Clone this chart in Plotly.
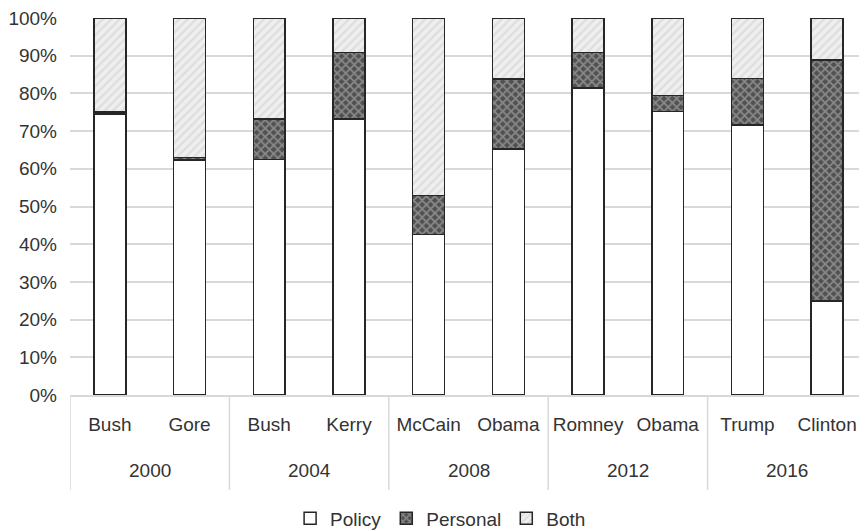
import plotly.graph_objects as go

years = ["2000", "2000", "2004", "2004", "2008", "2008", "2012", "2012", "2016", "2016"]
candidates = ["Bush", "Gore", "Bush", "Kerry", "McCain", "Obama", "Romney", "Obama", "Trump", "Clinton"]
policy = [74.6, 62.3, 62.5, 73.2, 42.6, 65.3, 81.4, 75.2, 71.6, 25.0]
personal = [0.5, 0.7, 10.7, 17.6, 10.3, 18.5, 9.4, 4.2, 12.3, 63.8]
both = [round(100 - a - b, 1) for a, b in zip(policy, personal)]
y_ticks = list(range(0, 101, 10))
y_tick_labels = [f"{v}%" for v in y_ticks]

idx = list(range(len(candidates)))
line = dict(color="#262626", width=1.5)
FONT = "Liberation Sans, Arial, sans-serif"
AXIS_GREY = "#d9d9d9"

fig = go.Figure()
fig.add_trace(go.Bar(
    name="Policy", x=idx, y=policy,
    marker=dict(color="white", line=line),
))
fig.add_trace(go.Bar(
    name="Personal", x=idx, y=personal,
    marker=dict(color="#5a5a5a", line=line,
                pattern=dict(shape="x", fgcolor="#c4c4c4", bgcolor="#505050", size=6, solidity=0.5)),
))
fig.add_trace(go.Bar(
    name="Both", x=idx, y=both,
    marker=dict(color="#e4e4e4", line=line,
                pattern=dict(shape="/", fgcolor="#cdcdcd", bgcolor="#efefef", size=6, solidity=0.4)),
))

# year group labels and dividers
groups = []
for i, yr in enumerate(years):
    if not groups or groups[-1][0] != yr:
        groups.append([yr, i, i])
    else:
        groups[-1][2] = i

annotations = []
shapes = []
for yr, start, end in groups:
    annotations.append(dict(x=(start + end) / 2, y=-0.2, xref="x", yref="paper",
                            text=yr, showarrow=False, yanchor="middle",
                            font=dict(family=FONT, size=19, color="#333333")))
    shapes.append(dict(type="line", xref="x", yref="paper", x0=start - 0.5, x1=start - 0.5,
                       y0=0, y1=-0.252, line=dict(color=AXIS_GREY, width=1.5)))
shapes.append(dict(type="line", xref="x", yref="paper", x0=groups[-1][2] + 0.5, x1=groups[-1][2] + 0.5,
                   y0=0, y1=-0.252, line=dict(color=AXIS_GREY, width=1.5)))

fig.update_layout(
    barmode="stack",
    bargap=0.6,
    width=859, height=523,
    margin=dict(l=62, r=0, t=10, b=136, autoexpand=False),
    plot_bgcolor="white", paper_bgcolor="white",
    font=dict(family=FONT, size=19, color="#333333"),
    legend=dict(orientation="h", x=0.465, xanchor="center", y=-0.327, yanchor="middle",
                font=dict(size=19), itemwidth=30, traceorder="normal"),
    showlegend=True,
    annotations=annotations,
    shapes=shapes,
)
fig.update_xaxes(
    range=[-0.5, len(candidates) - 0.5], tickvals=idx, ticktext=candidates,
    showline=True, linecolor=AXIS_GREY, linewidth=1.5, showgrid=False, zeroline=False,
    ticks="", automargin=False, ticklabelstandoff=11,
)
fig.update_yaxes(
    range=[0, 100], tickvals=y_ticks, ticktext=y_tick_labels,
    showgrid=True, gridcolor=AXIS_GREY, gridwidth=1.5, zeroline=False,
    automargin=False, ticks="", ticklabelstandoff=12, ticklabeloverflow="allow",
)
fig.write_html("out.html")
